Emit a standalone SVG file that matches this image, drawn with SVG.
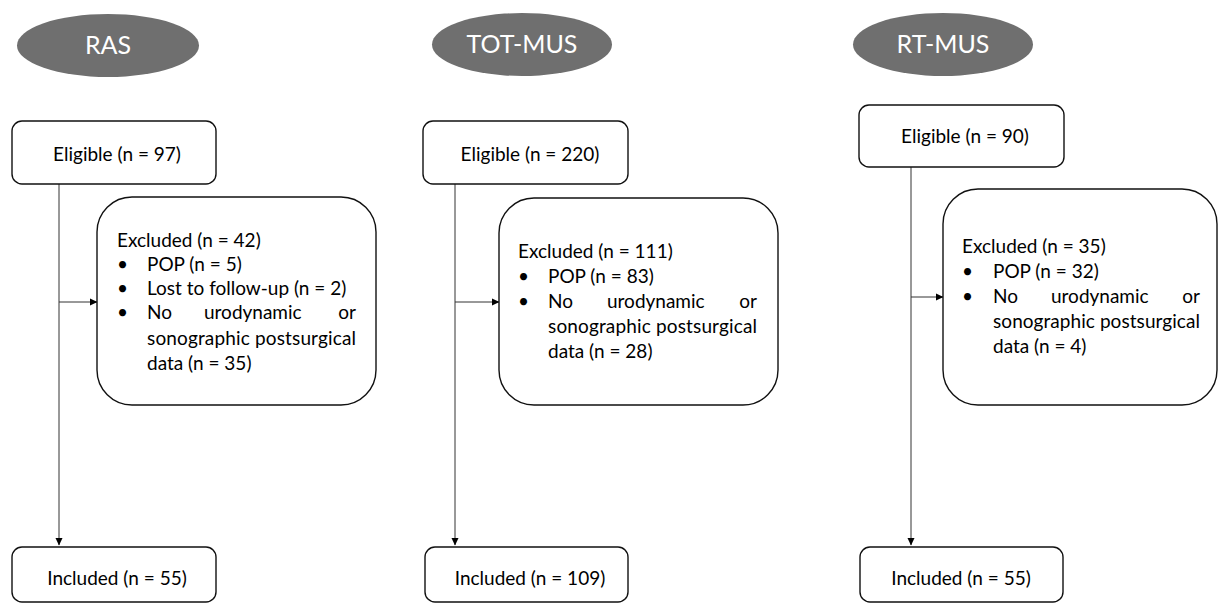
<svg xmlns="http://www.w3.org/2000/svg" width="1218" height="603" viewBox="0 0 1218 603">
<defs>
<marker id="ah" markerWidth="8" markerHeight="8" refX="7" refY="4" orient="auto" markerUnits="userSpaceOnUse">
<path d="M0,0.5 L7.5,4 L0,7.5 Z" fill="#000"/>
</marker>
<style>
.ell{fill:#6f6f6f}
.et{font-family:Lato,"Liberation Sans",sans-serif;font-size:25px;fill:#fff;text-anchor:middle}
.box{fill:#fff;stroke:#111;stroke-width:1.4}
.t{font-family:Lato,"Liberation Sans",sans-serif;font-size:19px;fill:#000}
.c{text-anchor:middle}
.r{text-anchor:end}
.ln{fill:none;stroke:#333;stroke-width:1}
</style>
</defs>
<rect width="1218" height="603" fill="#fff"/>

<g id="connectors">
<line class="ln" x1="59" y1="184" x2="59" y2="545" marker-end="url(#ah)"/>
<line class="ln" x1="59" y1="302" x2="97" y2="302" marker-end="url(#ah)"/>
<line class="ln" x1="455" y1="184" x2="455" y2="545" marker-end="url(#ah)"/>
<line class="ln" x1="455" y1="302" x2="499" y2="302" marker-end="url(#ah)"/>
<line class="ln" x1="911" y1="167" x2="911" y2="545" marker-end="url(#ah)"/>
<line class="ln" x1="911" y1="297" x2="943" y2="297" marker-end="url(#ah)"/>
</g>

<g id="ras-label">
<ellipse class="ell" cx="108" cy="45.5" rx="91" ry="31.5"/>
<text class="et" x="108" y="54">RAS</text>
</g>
<g id="ras-eligible">
<rect class="box" x="12" y="121" width="204" height="63" rx="10"/>
<text class="t c" x="117" y="161">Eligible (n = 97)</text>
</g>
<g id="ras-excluded">
<rect class="box" x="97" y="197" width="279" height="208" rx="35"/>
<text class="t" x="117" y="247">Excluded (n = 42)</text>
<text class="t" x="117" y="271">•</text><text class="t" x="147" y="271">POP (n = 5)</text>
<text class="t" x="117" y="295">•</text><text class="t" x="147" y="295">Lost to follow-up (n = 2)</text>
<text class="t" x="117" y="319">•</text><text class="t" x="147" y="319">No</text><text class="t" x="204" y="319">urodynamic</text><text class="t r" x="356" y="319">or</text>
<text class="t" x="147" y="345" textLength="209" lengthAdjust="spacing">sonographic postsurgical</text>
<text class="t" x="147" y="370">data (n = 35)</text>
</g>
<g id="ras-included">
<rect class="box" x="12" y="547" width="204" height="55" rx="10"/>
<text class="t c" x="117" y="585">Included (n = 55)</text>
</g>

<g id="tot-label">
<ellipse class="ell" cx="522" cy="44.5" rx="90" ry="31.5"/>
<text class="et" x="522" y="53">TOT-MUS</text>
</g>
<g id="tot-eligible">
<rect class="box" x="423" y="121" width="205" height="63" rx="10"/>
<text class="t c" x="530" y="161">Eligible (n = 220)</text>
</g>
<g id="tot-excluded">
<rect class="box" x="499" y="198" width="279" height="207" rx="35"/>
<text class="t" x="518" y="258">Excluded (n = 111)</text>
<text class="t" x="518" y="283">•</text><text class="t" x="548" y="283">POP (n = 83)</text>
<text class="t" x="518" y="308">•</text><text class="t" x="548" y="308">No</text><text class="t" x="607" y="308">urodynamic</text><text class="t r" x="757" y="308">or</text>
<text class="t" x="548" y="333" textLength="209" lengthAdjust="spacing">sonographic postsurgical</text>
<text class="t" x="548" y="358">data (n = 28)</text>
</g>
<g id="tot-included">
<rect class="box" x="425" y="547" width="203" height="55" rx="10"/>
<text class="t c" x="530" y="585">Included (n = 109)</text>
</g>

<g id="rt-label">
<ellipse class="ell" cx="943" cy="44.5" rx="90" ry="31.5"/>
<text class="et" x="943" y="53">RT-MUS</text>
</g>
<g id="rt-eligible">
<rect class="box" x="859" y="105" width="205" height="62" rx="10"/>
<text class="t c" x="965" y="143">Eligible (n = 90)</text>
</g>
<g id="rt-excluded">
<rect class="box" x="943" y="189" width="274" height="216" rx="35"/>
<text class="t" x="962" y="253">Excluded (n = 35)</text>
<text class="t" x="962" y="278">•</text><text class="t" x="993" y="278">POP (n = 32)</text>
<text class="t" x="962" y="303">•</text><text class="t" x="993" y="303">No</text><text class="t" x="1051" y="303">urodynamic</text><text class="t r" x="1200" y="303">or</text>
<text class="t" x="993" y="328" textLength="207" lengthAdjust="spacing">sonographic postsurgical</text>
<text class="t" x="993" y="353">data (n = 4)</text>
</g>
<g id="rt-included">
<rect class="box" x="860" y="547" width="203" height="55" rx="10"/>
<text class="t c" x="961" y="585">Included (n = 55)</text>
</g>
</svg>
